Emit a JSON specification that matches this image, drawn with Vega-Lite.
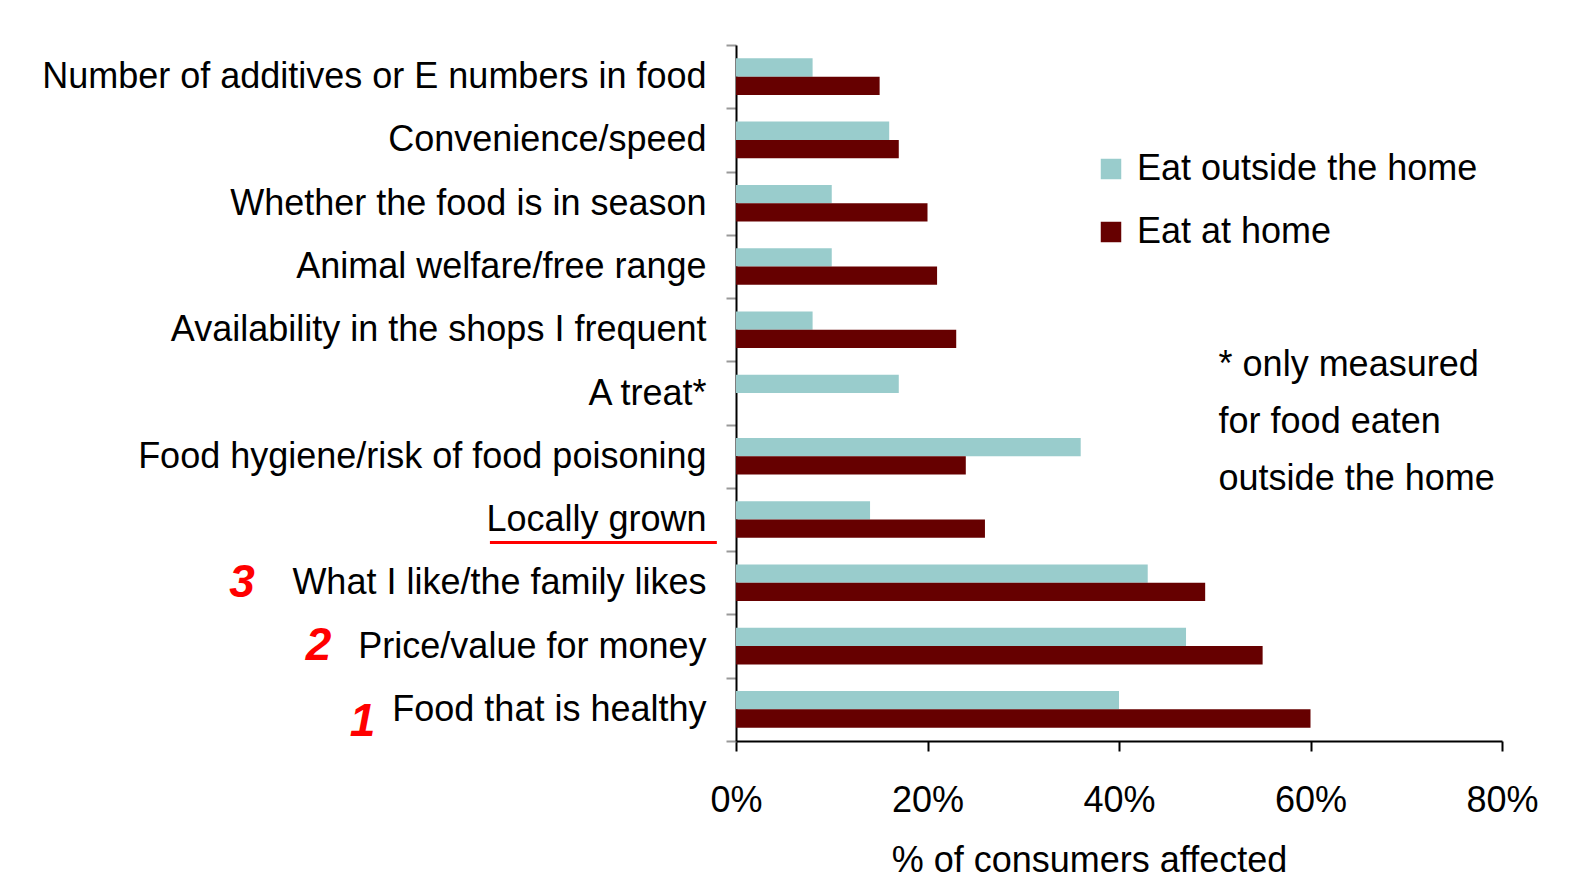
{
  "$schema": "https://vega.github.io/schema/vega-lite/v6.json",
  "width": 766,
  "height": 696,
  "padding": {"left": 41, "top": 27, "right": 0, "bottom": 0},
  "background": "white",
  "config": {
    "font": "Liberation Sans, Arial",
    "view": {"stroke": null}
  },
  "datasets": {
    "bars": [
      {"factor": "Number of additives or E numbers in food", "group": "Eat outside the home", "pct": 8},
      {"factor": "Number of additives or E numbers in food", "group": "Eat at home", "pct": 15},
      {"factor": "Convenience/speed", "group": "Eat outside the home", "pct": 16},
      {"factor": "Convenience/speed", "group": "Eat at home", "pct": 17},
      {"factor": "Whether the food is in season", "group": "Eat outside the home", "pct": 10},
      {"factor": "Whether the food is in season", "group": "Eat at home", "pct": 20},
      {"factor": "Animal welfare/free range", "group": "Eat outside the home", "pct": 10},
      {"factor": "Animal welfare/free range", "group": "Eat at home", "pct": 21},
      {"factor": "Availability in the shops I frequent", "group": "Eat outside the home", "pct": 8},
      {"factor": "Availability in the shops I frequent", "group": "Eat at home", "pct": 23},
      {"factor": "A treat*", "group": "Eat outside the home", "pct": 17},
      {"factor": "Food hygiene/risk of food poisoning", "group": "Eat outside the home", "pct": 36},
      {"factor": "Food hygiene/risk of food poisoning", "group": "Eat at home", "pct": 24},
      {"factor": "Locally grown", "group": "Eat outside the home", "pct": 14},
      {"factor": "Locally grown", "group": "Eat at home", "pct": 26},
      {"factor": "What I like/the family likes", "group": "Eat outside the home", "pct": 43},
      {"factor": "What I like/the family likes", "group": "Eat at home", "pct": 49},
      {"factor": "Price/value for money", "group": "Eat outside the home", "pct": 47},
      {"factor": "Price/value for money", "group": "Eat at home", "pct": 55},
      {"factor": "Food that is healthy", "group": "Eat outside the home", "pct": 40},
      {"factor": "Food that is healthy", "group": "Eat at home", "pct": 60}
    ]
  },
  "layer": [
    {
      "data": {"name": "bars"},
      "mark": {"type": "bar"},
      "encoding": {
        "y": {
          "field": "factor",
          "type": "nominal",
          "scale": {
            "domain": ["Number of additives or E numbers in food", "Convenience/speed", "Whether the food is in season", "Animal welfare/free range", "Availability in the shops I frequent", "A treat*", "Food hygiene/risk of food poisoning", "Locally grown", "What I like/the family likes", "Price/value for money", "Food that is healthy"],
            "paddingInner": 0,
            "paddingOuter": 0
          },
          "axis": {
            "title": null,
            "labelFontSize": 36,
            "labelColor": "#000000",
            "labelLimit": 900,
            "labelPadding": 20,
            "tickBand": "extent",
            "tickSize": 10,
            "tickColor": "#999999",
            "tickWidth": 2,
            "domainColor": "#000000",
            "domainWidth": 2
          }
        },
        "x": {
          "field": "pct",
          "type": "quantitative",
          "scale": {"domain": [0, 80]},
          "axis": {
            "title": "% of consumers affected",
            "values": [0, 20, 40, 60, 80],
            "labelExpr": "datum.value + '%'",
            "grid": false,
            "labelFontSize": 36,
            "labelColor": "#000000",
            "labelPadding": 32,
            "labelFlush": false,
            "tickSize": 10,
            "tickColor": "#000000",
            "tickWidth": 2,
            "domainColor": "#000000",
            "domainWidth": 2,
            "titleFontSize": 36,
            "titleFontWeight": "normal",
            "titleColor": "#000000",
            "titlePadding": 25,
            "titleX": 353,
            "titleAlign": "center"
          }
        },
        "yOffset": {
          "field": "group",
          "type": "nominal",
          "sort": ["Eat outside the home", "Eat at home"],
          "scale": {"paddingInner": 0, "paddingOuter": 0.73}
        },
        "color": {
          "field": "group",
          "type": "nominal",
          "sort": ["Eat outside the home", "Eat at home"],
          "scale": {"domain": ["Eat outside the home", "Eat at home"], "range": ["#99CCCC", "#660000"]},
          "legend": {
            "title": null,
            "orient": "none",
            "legendX": 357,
            "legendY": 106,
            "symbolType": "square",
            "symbolSize": 420,
            "symbolStrokeWidth": 0,
            "labelFontSize": 36,
            "labelColor": "#000000",
            "labelLimit": 600,
            "labelOffset": 8,
            "rowPadding": 27
          }
        }
      }
    },
    {
      "data": {"values": [{"note": "footnote"}]},
      "mark": {"type": "text", "align": "left", "baseline": "middle", "fontSize": 36, "lineHeight": 57, "color": "#000000", "dy": -28},
      "encoding": {
        "x": {"datum": 50.4, "type": "quantitative"},
        "y": {"datum": "A treat*", "type": "nominal"},
        "text": {"value": ["* only measured", "for food eaten", "outside the home"]}
      }
    },
    {
      "data": {"values": [{"rank": "3"}]},
      "mark": {"type": "text", "align": "center", "baseline": "middle", "fontSize": 46, "fontWeight": "bold", "fontStyle": "italic", "color": "#FF0000"},
      "encoding": {
        "x": {"datum": -51.6, "type": "quantitative"},
        "y": {"datum": "What I like/the family likes", "type": "nominal"},
        "text": {"field": "rank"}
      }
    },
    {
      "data": {"values": [{"rank": "2"}]},
      "mark": {"type": "text", "align": "center", "baseline": "middle", "fontSize": 46, "fontWeight": "bold", "fontStyle": "italic", "color": "#FF0000"},
      "encoding": {
        "x": {"datum": -43.6, "type": "quantitative"},
        "y": {"datum": "Price/value for money", "type": "nominal"},
        "text": {"field": "rank"}
      }
    },
    {
      "data": {"values": [{"rank": "1"}]},
      "mark": {"type": "text", "align": "center", "baseline": "middle", "fontSize": 46, "fontWeight": "bold", "fontStyle": "italic", "color": "#FF0000", "dy": 13},
      "encoding": {
        "x": {"datum": -39.0, "type": "quantitative"},
        "y": {"datum": "Food that is healthy", "type": "nominal"},
        "text": {"field": "rank"}
      }
    },
    {
      "data": {"values": [{"from": -25.7, "to": -2.0, "factor": "Locally grown"}]},
      "mark": {"type": "rule", "color": "#FF0000", "strokeWidth": 3, "yOffset": 23},
      "encoding": {
        "x": {"field": "from", "type": "quantitative"},
        "x2": {"field": "to"},
        "y": {"field": "factor", "type": "nominal"}
      }
    }
  ]
}
